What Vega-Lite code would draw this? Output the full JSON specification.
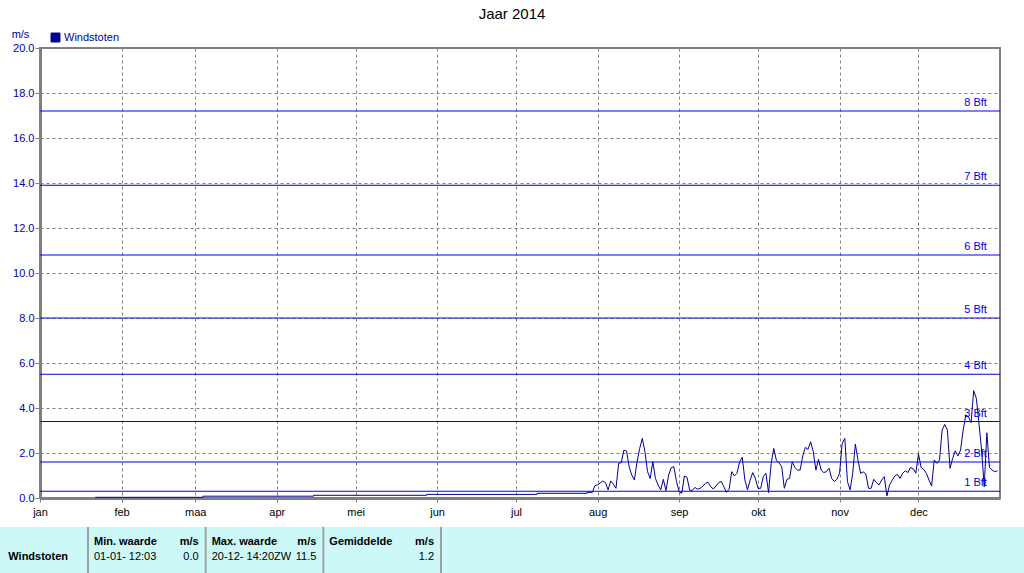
{
  "$schema": "https://vega.github.io/schema/vega-lite/v6.json",
  "padding": {"top": 7, "left": 0, "right": 0, "bottom": 0},
  "background": "white",
  "title": {"text": "Jaar 2014", "fontSize": 15, "fontWeight": "normal", "font": "Liberation Sans", "color": "black", "anchor": "middle", "offset": 5},
  "datasets": {
    "bft": [
      {"ms": 0.3, "label": "1 Bft"}, {"ms": 1.6, "label": "2 Bft"}, {"ms": 3.4, "label": "3 Bft"}, {"ms": 5.5, "label": "4 Bft"},
      {"ms": 8.0, "label": "5 Bft"}, {"ms": 10.8, "label": "6 Bft"}, {"ms": 13.9, "label": "7 Bft"}, {"ms": 17.2, "label": "8 Bft"}
    ],
    "stap": [
      {"dag": "2014-01-22", "ms": 0.03}, {"dag": "2014-03-04", "ms": 0.08}, {"dag": "2014-04-15", "ms": 0.12},
      {"dag": "2014-05-28", "ms": 0.16}, {"dag": "2014-07-09", "ms": 0.21}, {"dag": "2014-07-28", "ms": 0.25}, {"dag": "2014-07-30", "ms": 0.25}
    ],
    "dag": [
      {"dag": "2014-07-30", "ms": 0.25}, {"dag": "2014-07-31", "ms": 0.55},
      {"dag": "2014-08-01", "ms": 0.58}, {"dag": "2014-08-02", "ms": 0.67}, {"dag": "2014-08-03", "ms": 0.76}, {"dag": "2014-08-04", "ms": 0.68},
      {"dag": "2014-08-05", "ms": 0.36}, {"dag": "2014-08-06", "ms": 0.76}, {"dag": "2014-08-07", "ms": 0.62}, {"dag": "2014-08-08", "ms": 0.43},
      {"dag": "2014-08-09", "ms": 1.54}, {"dag": "2014-08-10", "ms": 1.57}, {"dag": "2014-08-11", "ms": 2.13}, {"dag": "2014-08-12", "ms": 2.09},
      {"dag": "2014-08-13", "ms": 1.39}, {"dag": "2014-08-14", "ms": 1.02}, {"dag": "2014-08-15", "ms": 0.80}, {"dag": "2014-08-16", "ms": 1.61},
      {"dag": "2014-08-17", "ms": 2.20}, {"dag": "2014-08-18", "ms": 2.65}, {"dag": "2014-08-19", "ms": 2.06}, {"dag": "2014-08-20", "ms": 1.17},
      {"dag": "2014-08-21", "ms": 0.87}, {"dag": "2014-08-22", "ms": 1.61}, {"dag": "2014-08-23", "ms": 0.87}, {"dag": "2014-08-24", "ms": 0.58},
      {"dag": "2014-08-25", "ms": 0.36}, {"dag": "2014-08-26", "ms": 0.83}, {"dag": "2014-08-27", "ms": 0.33}, {"dag": "2014-08-28", "ms": 1.02},
      {"dag": "2014-08-29", "ms": 1.35}, {"dag": "2014-08-30", "ms": 1.39}, {"dag": "2014-08-31", "ms": 0.73},
      {"dag": "2014-09-01", "ms": 0.28}, {"dag": "2014-09-02", "ms": 0.21}, {"dag": "2014-09-03", "ms": 0.98}, {"dag": "2014-09-04", "ms": 0.92},
      {"dag": "2014-09-05", "ms": 0.35}, {"dag": "2014-09-06", "ms": 0.33}, {"dag": "2014-09-07", "ms": 0.47}, {"dag": "2014-09-08", "ms": 0.39},
      {"dag": "2014-09-09", "ms": 0.43}, {"dag": "2014-09-10", "ms": 0.52}, {"dag": "2014-09-11", "ms": 0.65}, {"dag": "2014-09-12", "ms": 0.70},
      {"dag": "2014-09-13", "ms": 0.50}, {"dag": "2014-09-14", "ms": 0.40}, {"dag": "2014-09-15", "ms": 0.53}, {"dag": "2014-09-16", "ms": 0.68},
      {"dag": "2014-09-17", "ms": 0.74}, {"dag": "2014-09-18", "ms": 0.50}, {"dag": "2014-09-19", "ms": 0.25}, {"dag": "2014-09-20", "ms": 0.39},
      {"dag": "2014-09-21", "ms": 1.17}, {"dag": "2014-09-22", "ms": 0.98}, {"dag": "2014-09-23", "ms": 1.10}, {"dag": "2014-09-24", "ms": 1.61},
      {"dag": "2014-09-25", "ms": 1.81}, {"dag": "2014-09-26", "ms": 0.80}, {"dag": "2014-09-27", "ms": 0.36}, {"dag": "2014-09-28", "ms": 0.80},
      {"dag": "2014-09-29", "ms": 1.13}, {"dag": "2014-09-30", "ms": 0.87},
      {"dag": "2014-10-01", "ms": 0.43}, {"dag": "2014-10-02", "ms": 0.43}, {"dag": "2014-10-03", "ms": 0.95}, {"dag": "2014-10-04", "ms": 1.10},
      {"dag": "2014-10-05", "ms": 0.24}, {"dag": "2014-10-06", "ms": 1.54}, {"dag": "2014-10-07", "ms": 2.20}, {"dag": "2014-10-08", "ms": 1.66},
      {"dag": "2014-10-09", "ms": 1.57}, {"dag": "2014-10-10", "ms": 1.39}, {"dag": "2014-10-11", "ms": 0.43}, {"dag": "2014-10-12", "ms": 0.83},
      {"dag": "2014-10-13", "ms": 0.87}, {"dag": "2014-10-14", "ms": 1.61}, {"dag": "2014-10-15", "ms": 1.35}, {"dag": "2014-10-16", "ms": 1.24},
      {"dag": "2014-10-17", "ms": 1.24}, {"dag": "2014-10-18", "ms": 1.87}, {"dag": "2014-10-19", "ms": 2.25}, {"dag": "2014-10-20", "ms": 2.16},
      {"dag": "2014-10-21", "ms": 2.50}, {"dag": "2014-10-22", "ms": 2.06}, {"dag": "2014-10-23", "ms": 1.24}, {"dag": "2014-10-24", "ms": 1.72},
      {"dag": "2014-10-25", "ms": 1.24}, {"dag": "2014-10-26", "ms": 1.13}, {"dag": "2014-10-27", "ms": 1.17}, {"dag": "2014-10-28", "ms": 1.32},
      {"dag": "2014-10-29", "ms": 0.87}, {"dag": "2014-10-30", "ms": 0.73}, {"dag": "2014-10-31", "ms": 0.83},
      {"dag": "2014-11-01", "ms": 1.10}, {"dag": "2014-11-02", "ms": 2.43}, {"dag": "2014-11-03", "ms": 2.65}, {"dag": "2014-11-04", "ms": 0.73},
      {"dag": "2014-11-05", "ms": 0.36}, {"dag": "2014-11-06", "ms": 1.10}, {"dag": "2014-11-07", "ms": 2.40}, {"dag": "2014-11-08", "ms": 1.69},
      {"dag": "2014-11-09", "ms": 1.10}, {"dag": "2014-11-10", "ms": 1.16}, {"dag": "2014-11-11", "ms": 1.07}, {"dag": "2014-11-12", "ms": 0.43},
      {"dag": "2014-11-13", "ms": 0.43}, {"dag": "2014-11-14", "ms": 0.83}, {"dag": "2014-11-15", "ms": 0.68}, {"dag": "2014-11-16", "ms": 0.58},
      {"dag": "2014-11-17", "ms": 0.80}, {"dag": "2014-11-18", "ms": 0.95}, {"dag": "2014-11-19", "ms": 0.09}, {"dag": "2014-11-20", "ms": 0.58},
      {"dag": "2014-11-21", "ms": 0.78}, {"dag": "2014-11-22", "ms": 0.98}, {"dag": "2014-11-23", "ms": 1.05}, {"dag": "2014-11-24", "ms": 0.87},
      {"dag": "2014-11-25", "ms": 1.10}, {"dag": "2014-11-26", "ms": 1.21}, {"dag": "2014-11-27", "ms": 1.13}, {"dag": "2014-11-28", "ms": 1.36},
      {"dag": "2014-11-29", "ms": 1.30}, {"dag": "2014-11-30", "ms": 1.10},
      {"dag": "2014-12-01", "ms": 1.96}, {"dag": "2014-12-02", "ms": 1.36}, {"dag": "2014-12-03", "ms": 1.27}, {"dag": "2014-12-04", "ms": 1.10},
      {"dag": "2014-12-05", "ms": 0.80}, {"dag": "2014-12-06", "ms": 0.53}, {"dag": "2014-12-07", "ms": 1.69}, {"dag": "2014-12-08", "ms": 1.54},
      {"dag": "2014-12-09", "ms": 1.69}, {"dag": "2014-12-10", "ms": 3.02}, {"dag": "2014-12-11", "ms": 3.27}, {"dag": "2014-12-12", "ms": 3.02},
      {"dag": "2014-12-13", "ms": 1.32}, {"dag": "2014-12-14", "ms": 1.76}, {"dag": "2014-12-15", "ms": 2.10}, {"dag": "2014-12-16", "ms": 1.87},
      {"dag": "2014-12-17", "ms": 2.13}, {"dag": "2014-12-18", "ms": 3.02}, {"dag": "2014-12-19", "ms": 3.69}, {"dag": "2014-12-20", "ms": 3.61},
      {"dag": "2014-12-21", "ms": 3.35}, {"dag": "2014-12-22", "ms": 4.77}, {"dag": "2014-12-23", "ms": 4.43}, {"dag": "2014-12-24", "ms": 3.32},
      {"dag": "2014-12-25", "ms": 2.13}, {"dag": "2014-12-26", "ms": 0.50}, {"dag": "2014-12-27", "ms": 2.90}, {"dag": "2014-12-28", "ms": 1.36},
      {"dag": "2014-12-29", "ms": 1.24}, {"dag": "2014-12-30", "ms": 1.17}, {"dag": "2014-12-31", "ms": 1.21}
    ],
    "tabel": [
      {"kolom": "Min. waarde", "kop": "Min. waarde", "eenheid": "m/s", "tijd": "01-01- 12:03", "waarde": "0.0"},
      {"kolom": "Max. waarde", "kop": "Max. waarde", "eenheid": "m/s", "tijd": "20-12- 14:20ZW", "waarde": "11.5"},
      {"kolom": "Gemiddelde", "kop": "Gemiddelde", "eenheid": "m/s", "tijd": "", "waarde": "1.2"}
    ],
    "kolommen": [
      {"kolom": "Min. waarde"}, {"kolom": "Max. waarde"}, {"kolom": "Gemiddelde"}, {"kolom": "rest"}
    ],
    "rijen": [
      {"kolom": "Windstoten", "rij": "waarde", "tekst": "Windstoten"}
    ],
    "vlak": [
      {"vlak": "tabel"}
    ]
  },
  "vconcat": [
    {
      "width": 960,
      "height": 450,
      "view": {"stroke": "#808080", "strokeWidth": 2},
      "layer": [
        {
          "data": {"name": "dag"},
          "mark": {"type": "line", "color": "#000099", "strokeWidth": 1},
          "encoding": {
            "x": {
              "field": "dag", "type": "temporal",
              "scale": {"type": "utc", "domain": [{"year": 2014, "month": 1, "date": 1, "utc": true}, {"year": 2015, "month": 1, "date": 1, "utc": true}]},
              "axis": {
                "title": null,
                "values": [
                  {"year": 2014, "month": 1, "date": 1, "utc": true}, {"year": 2014, "month": 2, "date": 1, "utc": true},
                  {"year": 2014, "month": 3, "date": 1, "utc": true}, {"year": 2014, "month": 4, "date": 1, "utc": true},
                  {"year": 2014, "month": 5, "date": 1, "utc": true}, {"year": 2014, "month": 6, "date": 1, "utc": true},
                  {"year": 2014, "month": 7, "date": 1, "utc": true}, {"year": 2014, "month": 8, "date": 1, "utc": true},
                  {"year": 2014, "month": 9, "date": 1, "utc": true}, {"year": 2014, "month": 10, "date": 1, "utc": true},
                  {"year": 2014, "month": 11, "date": 1, "utc": true}, {"year": 2014, "month": 12, "date": 1, "utc": true}
                ],
                "labelExpr": "['jan','feb','maa','apr','mei','jun','jul','aug','sep','okt','nov','dec'][utcmonth(datum.value)]",
                "grid": true, "gridDash": [3, 3], "gridColor": "#808080", "gridOpacity": 1,
                "tickSize": 4, "tickColor": "#808080",
                "domainColor": "#808080", "domainWidth": 3,
                "labelColor": "black", "labelFontSize": 11, "labelPadding": 4, "labelFlush": false, "labelOverlap": false
              }
            },
            "y": {
              "field": "ms", "type": "quantitative",
              "scale": {"domain": [0, 20], "nice": false},
              "axis": {
                "title": "m/s", "titleAngle": 0, "titleAlign": "center", "titleBaseline": "bottom",
                "titleX": -20, "titleY": -9, "titleFontWeight": "normal", "titleFontSize": 11, "titleColor": "#000099",
                "values": [0, 2, 4, 6, 8, 10, 12, 14, 16, 18, 20], "format": ".1f",
                "grid": true, "gridDash": [3, 3], "gridColor": "#808080", "gridOpacity": 1,
                "tickSize": 5, "tickColor": "#808080",
                "domainColor": "#808080", "domainWidth": 3,
                "labelColor": "#0000aa", "labelFontSize": 11, "labelPadding": 1
              }
            },
            "color": {
              "datum": "Windstoten", "type": "nominal",
              "scale": {"range": ["#000099"]},
              "legend": {
                "title": null, "orient": "none", "legendX": 10, "legendY": -16,
                "symbolType": "square", "symbolSize": 80, "symbolFillColor": "#000099", "symbolStrokeColor": "black", "symbolStrokeWidth": 1,
                "labelColor": "#000099", "labelFontSize": 11, "labelOffset": 3
              }
            }
          }
        },
        {
          "data": {"name": "stap"},
          "mark": {"type": "line", "interpolate": "step-after", "color": "#000099", "strokeWidth": 1},
          "encoding": {
            "x": {"field": "dag", "type": "temporal", "scale": {"type": "utc"}},
            "y": {"field": "ms", "type": "quantitative"}
          }
        },
        {
          "data": {"name": "bft"},
          "mark": {"type": "rule", "color": "#0000ee", "strokeWidth": 1},
          "encoding": {
            "y": {"field": "ms", "type": "quantitative"}
          }
        },
        {
          "data": {"name": "bft"},
          "mark": {"type": "text", "align": "right", "baseline": "bottom", "dy": -3, "color": "#0000dd", "fontSize": 11},
          "encoding": {
            "x": {"datum": {"year": 2014, "month": 12, "date": 27, "utc": true}, "type": "temporal", "scale": {"type": "utc"}},
            "y": {"field": "ms", "type": "quantitative"},
            "text": {"field": "label"}
          }
        }
      ]
    },
    {
      "width": 984,
      "height": 50,
      "view": {"fill": null, "stroke": null},
      "resolve": {"scale": {"x": "independent"}},
      "layer": [
        {
          "data": {"name": "vlak"},
          "mark": {"type": "rect", "color": "#ccf8f8"},
          "encoding": {
            "x": {"field": "vlak", "type": "nominal", "scale": {"type": "band", "domain": ["tabel"], "range": [-40, 984], "paddingInner": 0, "paddingOuter": 0}, "axis": null}
          }
        },
        {
          "encoding": {
            "x": {
              "field": "kolom", "type": "nominal",
              "scale": {"type": "band", "domain": ["Windstoten", "Min. waarde", "Max. waarde", "Gemiddelde", "rest"], "range": [-69.7, 518.7], "paddingInner": 0, "paddingOuter": 0},
              "axis": null
            }
          },
          "layer": [
            {
              "data": {"name": "kolommen"},
              "mark": {"type": "rule", "color": "#a0a0a0", "strokeWidth": 2},
              "encoding": {"x": {"field": "kolom", "type": "nominal", "bandPosition": 0}}
            },
            {
              "data": {"name": "tabel"},
              "mark": {"type": "text", "align": "left", "baseline": "middle", "dx": 6, "fontWeight": "bold", "fontSize": 11, "color": "black"},
              "encoding": {
                "x": {"field": "kolom", "type": "nominal", "bandPosition": 0},
                "y": {"datum": "kop", "type": "nominal", "scale": {"type": "point", "domain": ["kop", "waarde", "volgende"], "range": [15, 45], "padding": 0}, "axis": null},
                "text": {"field": "kop"}
              }
            },
            {
              "data": {"name": "tabel"},
              "mark": {"type": "text", "align": "right", "baseline": "middle", "dx": -7, "fontWeight": "bold", "fontSize": 11, "color": "black"},
              "encoding": {
                "x": {"field": "kolom", "type": "nominal", "bandPosition": 1},
                "y": {"datum": "kop", "type": "nominal"},
                "text": {"field": "eenheid"}
              }
            },
            {
              "data": {"name": "tabel"},
              "mark": {"type": "text", "align": "left", "baseline": "middle", "dx": 6, "fontSize": 11, "color": "black"},
              "encoding": {
                "x": {"field": "kolom", "type": "nominal", "bandPosition": 0},
                "y": {"datum": "waarde", "type": "nominal"},
                "text": {"field": "tijd"}
              }
            },
            {
              "data": {"name": "tabel"},
              "mark": {"type": "text", "align": "right", "baseline": "middle", "dx": -7, "fontSize": 11, "color": "black"},
              "encoding": {
                "x": {"field": "kolom", "type": "nominal", "bandPosition": 1},
                "y": {"datum": "waarde", "type": "nominal"},
                "text": {"field": "waarde"}
              }
            },
            {
              "data": {"name": "rijen"},
              "mark": {"type": "text", "align": "left", "baseline": "middle", "dx": 38, "fontWeight": "bold", "fontSize": 11, "color": "black"},
              "encoding": {
                "x": {"field": "kolom", "type": "nominal", "bandPosition": 0},
                "y": {"field": "rij", "type": "nominal"},
                "text": {"field": "tekst"}
              }
            }
          ]
        }
      ]
    }
  ],
  "spacing": 8,
  "config": {
    "font": "Liberation Sans"
  }
}
